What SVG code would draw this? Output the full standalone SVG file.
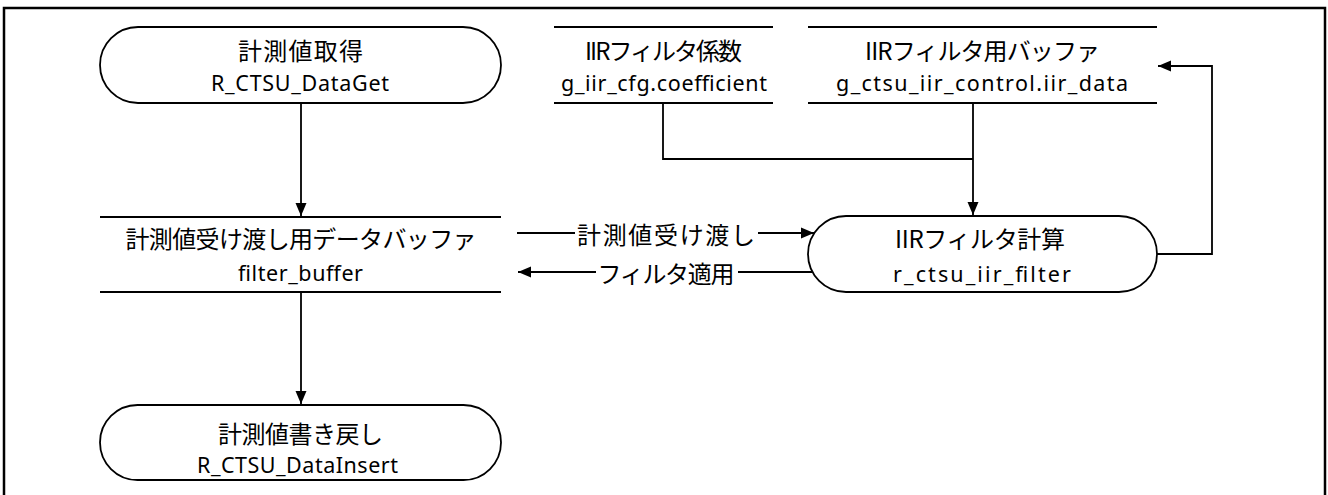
<svg xmlns="http://www.w3.org/2000/svg" width="1328" height="495" viewBox="0 0 1328 495">
<style>
.frame{fill:none;stroke:#000;stroke-width:2.5}
.term{fill:#fff;stroke:#000;stroke-width:1.8}
.store{stroke:#000;stroke-width:1.8}
.con{fill:none;stroke:#000;stroke-width:1.8}
.jp{font-family:"Noto Sans CJK JP","Noto Sans",sans-serif;font-size:24px;fill:#000;text-anchor:middle}
.en{font-family:"Noto Sans","Noto Sans CJK JP",sans-serif;font-size:21.5px;fill:#000;text-anchor:middle}
</style>
<defs>
<marker id="arr" markerUnits="userSpaceOnUse" markerWidth="14" markerHeight="12" refX="13" refY="6" orient="auto">
<path d="M0,0.5 L13,6 L0,11.5 Z" fill="#000"/>
</marker>
</defs>
<rect class="frame" x="4" y="8" width="1321" height="500"/>
<g id="connectors">
<path class="con" d="M301,103 V216" marker-end="url(#arr)"/>
<path class="con" d="M301,292 V404" marker-end="url(#arr)"/>
<path class="con" d="M663,103 V159 H973"/>
<path class="con" d="M973,103 V215" marker-end="url(#arr)"/>
<path class="con" d="M517,233 H575"/>
<path class="con" d="M758,233 H814" marker-end="url(#arr)"/>
<path class="con" d="M812,272 H738"/>
<path class="con" d="M596,272 H518" marker-end="url(#arr)"/>
<path class="con" d="M1157,254 H1212 V66 H1158" marker-end="url(#arr)"/>
<text class="jp" x="666" y="244" textLength="178" lengthAdjust="spacing">計測値受け渡し</text>
<text class="jp" x="666" y="283" textLength="137" lengthAdjust="spacing">フィルタ適用</text>
</g>
<g id="node-get">
<rect class="term" x="100" y="27" width="401" height="76" rx="38" ry="38"/>
<text class="jp" x="300.5" y="60" textLength="125" lengthAdjust="spacing">計測値取得</text>
<text class="en" x="300" y="91" textLength="178" lengthAdjust="spacing">R_CTSU_DataGet</text>
</g>
<g id="node-buffer">
<line class="store" x1="100" y1="217" x2="501" y2="217"/>
<line class="store" x1="100" y1="292" x2="501" y2="292"/>
<text class="jp" x="301" y="248" textLength="351" lengthAdjust="spacing">計測値受け渡し用データバッファ</text>
<text class="en" x="300.5" y="281" textLength="125" lengthAdjust="spacing">filter_buffer</text>
</g>
<g id="node-insert">
<rect class="term" x="100" y="405" width="401" height="75" rx="37.5" ry="37.5"/>
<text class="jp" x="300.5" y="443" textLength="165" lengthAdjust="spacing">計測値書き戻し</text>
<text class="en" x="297.5" y="473" textLength="201" lengthAdjust="spacing">R_CTSU_DataInsert</text>
</g>
<g id="node-coef">
<line class="store" x1="554" y1="27" x2="773" y2="27"/>
<line class="store" x1="554" y1="103" x2="773" y2="103"/>
<text class="jp" x="663.5" y="60" textLength="157" lengthAdjust="spacing">IIRフィルタ係数</text>
<text class="en" x="664" y="91" textLength="206" lengthAdjust="spacing">g_iir_cfg.coefficient</text>
</g>
<g id="node-iirbuf">
<line class="store" x1="808" y1="27" x2="1157" y2="27"/>
<line class="store" x1="808" y1="103" x2="1157" y2="103"/>
<text class="jp" x="982.5" y="60" textLength="235" lengthAdjust="spacing">IIRフィルタ用バッファ</text>
<text class="en" x="982" y="91" textLength="292" lengthAdjust="spacing">g_ctsu_iir_control.iir_data</text>
</g>
<g id="node-filter">
<rect class="term" x="808" y="216" width="349" height="76" rx="38" ry="38"/>
<text class="jp" x="980" y="248" textLength="170" lengthAdjust="spacing">IIRフィルタ計算</text>
<text class="en" x="982" y="282" textLength="178" lengthAdjust="spacing">r_ctsu_iir_filter</text>
</g>
</svg>
